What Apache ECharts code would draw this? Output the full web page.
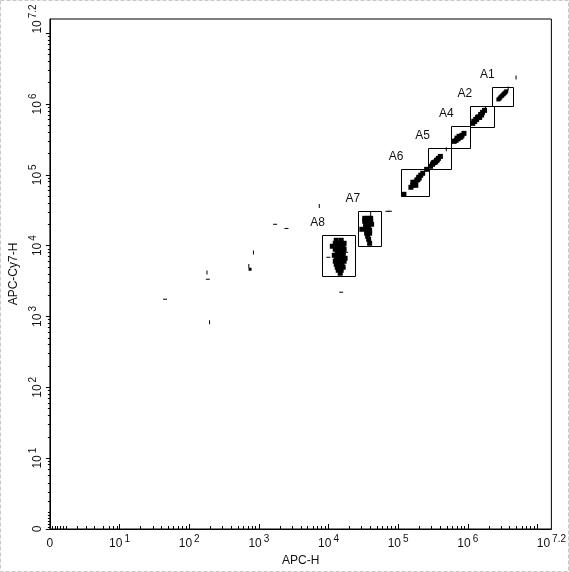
<!DOCTYPE html>
<html><head><meta charset="utf-8">
<script src="https://cdn.jsdelivr.net/npm/echarts@6/dist/echarts.min.js"></script>
<style>html,body{margin:0;padding:0;background:#fff}#c{width:569px;height:572px}</style>
</head><body><div id="c"></div>
<script>
// ---------- data ----------
const xTitle = 'APC-H';
const yTitle = 'APC-Cy7-H';
// axis exponent positions (display scale: 0..10 linear spans one decade, then log10)
const majorTicks = [0, 1, 2, 3, 4, 5, 6, 7];
const tickLabels = [0, 1, 2, 3, 4, 5, 6, 7.2];
const lowRegionMinor = [0.03, 0.07, 0.11, 0.15, 0.19, 0.23, 0.39, 0.52, 0.64, 0.76, 0.85, 0.91, 0.96];

const gateNames = ['A1', 'A2', 'A4', 'A5', 'A6', 'A7', 'A8'];
const gateXmin = [2.26e6, 1.07e6, 5.78e5, 2.65e5, 1.102e5, 2.64e4, 8.2e3];
const gateXmax = [4.47e6, 2.41e6, 1.07e6, 5.78e5, 2.737e5, 5.75e4, 2.395e4];
const gateYmin = [9.25e5, 4.68e5, 2.365e5, 1.196e5, 4.98e4, 9.82e3, 3.7e3];
const gateYmax = [1.71e6, 9.25e5, 4.83e5, 2.365e5, 1.196e5, 3.055e4, 1.403e4];

const popA1 = [[2.75e6,1.16e6],[2.93e6,1.24e6],[3.13e6,1.32e6],[3.34e6,1.41e6],[3.56e6,1.51e6],
  [2.85e6,1.19e6],[3.05e6,1.29e6],[3.25e6,1.37e6],[3.45e6,1.45e6]];
const popA2 = [[1.18e6,5.33e5],[1.26e6,5.69e5],[1.34e6,6.06e5],[1.43e6,6.58e5],[1.53e6,7.13e5],
  [1.63e6,7.62e5],[1.74e6,8.13e5],[1.30e6,6.06e5],[1.48e6,6.47e5],[1.38e6,6.47e5],[1.58e6,7.0e5],[1.22e6,5.7e5]];
const popA4 = [[6.37e5,2.97e5],[6.79e5,3.07e5],[7.25e5,3.22e5],[7.74e5,3.38e5],[8.26e5,3.61e5],
  [8.81e5,3.85e5],[7.0e5,3.3e5],[8.0e5,3.45e5],[7.5e5,3.5e5]];
const popA5 = [[2.92e5,1.32e5],[3.12e5,1.41e5],[3.325e5,1.50e5],[3.55e5,1.60e5],[3.79e5,1.71e5],
  [4.04e5,1.82e5],[3.2e5,1.48e5],[3.65e5,1.62e5],[3.45e5,1.52e5]];
const popA6 = [[1.525e5,6.67e4],[1.626e5,7.12e4],[1.736e5,7.85e4],[1.853e5,8.39e4],[1.977e5,9.25e4],
  [2.11e5,9.87e4],[2.25e5,1.053e5],[1.626e5,7.85e4],[1.794e5,7.12e4],[1.92e5,8.6e4],[2.0e5,9.0e4],
  [1.21e5,5.31e4],[2.565e5,1.196e5]];
const popA7 = [[3.31e4,2.433e4],[3.65e4,2.433e4],[4.03e4,2.433e4],
  [3.31e4,2.211e4],[3.65e4,2.211e4],[4.03e4,2.211e4],
  [3.42e4,2.004e4],[3.77e4,2.004e4],[4.16e4,2.004e4],
  [3.42e4,1.82e4],[3.77e4,1.82e4],[3.01e4,1.703e4],
  [3.53e4,1.652e4],[3.895e4,1.652e4],
  [3.53e4,1.499e4],[3.895e4,1.499e4],
  [3.65e4,1.359e4],[3.77e4,1.231e4],[3.895e4,1.081e4]];
const popA8 = [[1.292e4,1.191e4],[1.521e4,1.191e4],
  [1.251e4,1.081e4],[1.38e4,1.081e4],[1.521e4,1.081e4],[1.676e4,1.081e4],
  [1.135e4,9.81e3],[1.334e4,9.81e3],[1.472e4,9.81e3],[1.623e4,9.81e3],
  [1.251e4,8.894e3],[1.38e4,8.894e3],[1.521e4,8.894e3],[1.676e4,8.894e3],
  [1.334e4,8.07e3],[1.472e4,8.07e3],[1.623e4,8.07e3],
  [1.211e4,7.32e3],[1.334e4,7.32e3],[1.472e4,7.32e3],[1.623e4,7.32e3],
  [1.292e4,6.64e3],[1.425e4,6.64e3],[1.571e4,6.64e3],[1.731e4,6.64e3],
  [1.251e4,6.03e3],[1.38e4,6.03e3],[1.521e4,6.03e3],[1.676e4,6.03e3],
  [1.292e4,5.463e3],[1.425e4,5.463e3],[1.571e4,5.463e3],
  [1.334e4,4.955e3],[1.472e4,4.955e3],[1.623e4,4.955e3],
  [1.38e4,4.496e3],[1.521e4,4.496e3],[1.472e4,4.08e3]];
const strayH = [[45,1754],[1710,20040],[2490,17500],[185,3357],[70000,30600],[76000,30600],[15210,2203],[9970,6860],[1.788e4,8.07e3]];
const strayV = [[196,831],[180,4178],[718,5172],[836,8000],[7370,36300],[4.93e6,2.37e6],[4.91e5,2.29e5],[3.8e6,1.65e6],[1.8e6,8.6e5],[4.03e4,2.8e4]];
const strayDot = [[748,4645]];

// ---------- display transform (axis scale) ----------
function tf(v){ return v <= 0 ? 0 : (v < 10 ? v / 10 : Math.log10(v)); }
const mapPts = arr => arr.map(p => [tf(p[0]), tf(p[1])]);

const minorTicks = lowRegionMinor.slice();
for (let d = 1; d < 7; d++) for (let k = 2; k <= 9; k++) minorTicks.push(d + Math.log10(k));

const FONT = 'Liberation Sans';
const TXT = '#111';
function labelFmt(v){
  if (v === 0) return '{b|0}';
  return '{b|10}{s|' + (Math.round(v*10)/10) + '}';
}
const rich = {
  b: {fontSize: 12, fontFamily: FONT, color: TXT, verticalAlign: 'bottom', lineHeight: 16},
  s: {fontSize: 10, fontFamily: FONT, color: TXT, verticalAlign: 'top', padding: [0,0,0,2]}
};

const gateData = gateNames.map((n,i) => [tf(gateXmin[i]), tf(gateXmax[i]), tf(gateYmin[i]), tf(gateYmax[i])]);

const chart = echarts.init(document.getElementById('c'), null, {renderer: 'canvas'});
const scat = (data, size, name) => ({
  type: 'scatter', name, data: mapPts(data), symbol: 'rect', symbolSize: size,
  itemStyle: {color: '#000', opacity: 1}, silent: true, z: 3, large: false
});
chart.setOption({
  animation: false,
  backgroundColor: '#fff',
  graphic: [{type: 'rect', shape: {x: 0.5, y: 0.5, width: 568, height: 571},
    style: {fill: null, stroke: '#c8c8c8', lineWidth: 1, lineDash: [4, 2]}, silent: true}],
  grid: {left: 43, right: 15, top: 19, bottom: 41, containLabel: false, show: true,
    borderColor: '#000', borderWidth: 1, backgroundColor: 'transparent'},
  xAxis: [{
    type: 'value', min: 0, max: 7.2, position: 'bottom',
    name: xTitle, nameLocation: 'middle', nameGap: 26,
    nameTextStyle: {fontSize: 12, fontFamily: FONT, color: TXT},
    axisLine: {show: true, lineStyle: {color: '#000', width: 1}},
    axisTick: {show: true, inside: true, length: 5, customValues: majorTicks, lineStyle: {color: '#000'}},
    axisLabel: {show: true, customValues: tickLabels, formatter: labelFmt, rich, margin: 5,
      fontSize: 12, fontFamily: FONT, color: TXT},
    splitLine: {show: false}
  }, {
    type: 'value', min: 0, max: 7.2, position: 'bottom', offset: 0,
    axisLine: {show: false},
    axisTick: {show: true, inside: true, length: 3, customValues: minorTicks, lineStyle: {color: '#000'}},
    axisLabel: {show: false}, splitLine: {show: false}
  }],
  yAxis: [{
    type: 'value', min: 0, max: 7.2, position: 'left',
    name: yTitle, nameLocation: 'middle', nameGap: 27, nameRotate: 90,
    nameTextStyle: {fontSize: 12, fontFamily: FONT, color: TXT},
    axisLine: {show: true, lineStyle: {color: '#000', width: 1}},
    axisTick: {show: true, inside: false, length: 4, customValues: majorTicks, lineStyle: {color: '#000'}},
    axisLabel: {show: true, customValues: tickLabels, formatter: labelFmt, rich, margin: 6, rotate: 90,
      fontSize: 12, fontFamily: FONT, color: TXT},
    splitLine: {show: false}
  }, {
    type: 'value', min: 0, max: 7.2, position: 'left', offset: 0,
    axisLine: {show: false},
    axisTick: {show: true, inside: false, length: 2, customValues: minorTicks, lineStyle: {color: '#000'}},
    axisLabel: {show: false}, splitLine: {show: false}
  }],
  series: [
    {
      type: 'custom', name: 'gates', data: gateData, encode: {x: [0, 1], y: [2, 3]}, silent: true, z: 4,
      renderItem(params, api){
        const p1 = api.coord([api.value(0), api.value(3)]);
        const p2 = api.coord([api.value(1), api.value(2)]);
        const x = Math.round(p1[0]) + 0.5, y = Math.round(p1[1]) + 0.5;
        return {type: 'group', children: [
          {type: 'rect', shape: {x, y, width: Math.round(p2[0]) - Math.round(p1[0]), height: Math.round(p2[1]) - Math.round(p1[1])},
            style: {fill: null, stroke: '#000', lineWidth: 1}},
          {type: 'text', x: p1[0] - 5, y: p1[1] - 13,
            style: {text: gateNames[params.dataIndex], align: 'center', verticalAlign: 'middle',
              fontSize: 12, fontFamily: FONT, fill: TXT}}
        ]};
      }
    },
    scat(popA1, 4, 'A1'), scat(popA2, 5, 'A2'), scat(popA4, 5, 'A4'), scat(popA5, 5, 'A5'),
    scat(popA6, 5, 'A6'), scat(popA7, 5, 'A7'), scat(popA8, 5, 'A8'),
    scat(strayH, [4, 1], 'strayH'), scat(strayV, [1, 4], 'strayV'), scat(strayDot, 3, 'dot')
  ]
});
</script>
</body></html>
